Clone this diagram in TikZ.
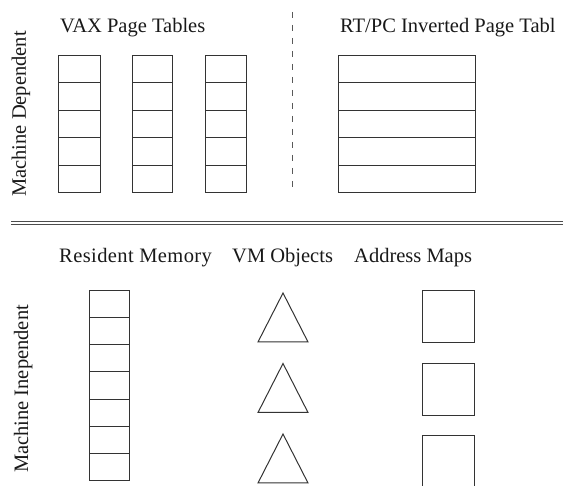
\documentclass[tikz,border=0pt]{standalone}
\usepackage{fontspec}
\setmainfont{Liberation Serif}
\begin{document}
\begin{tikzpicture}[x=1pt,y=-1pt,
  ink/.style={draw=black!80, line width=1pt},
  cell/.style={ink, rectangle, inner sep=0pt, anchor=north west},
  label/.style={font=\fontsize{20.5}{24}\selectfont, text=black!90, inner sep=0pt},
  sidelabel/.style={label, rotate=90, anchor=base},
  obj/.style={ink, line join=miter}]
  \useasboundingbox (0,0) rectangle (563,486);
  \clip (0,0) rectangle (563,486);

  % ---- machine dependent part ----
  \node[sidelabel] (mdep) at (26,114) {Machine Dependent};
  \node[label, anchor=base west] (vaxlbl) at (60,33) {VAX Page Tables};
  \node[label, anchor=base west] (rtlbl) at (340,33) {RT/PC Inverted Page Tabl};

  % three VAX page tables, five entries each
  \foreach \c/\x/\w in {1/58/42, 2/132/40, 3/205/41} {
    \foreach \r in {0,...,4} {
      \node[cell, minimum width=\w pt, minimum height=27.4pt]
        (vax\c-\r) at (\x, 55+27.4*\r) {};
    }
  }
  % inverted page table
  \foreach \r in {0,...,4} {
    \node[cell, minimum width=137pt, minimum height=27.4pt]
      (ipt-\r) at (338, 55+27.4*\r) {};
  }

  % separator between the two page table kinds
  \coordinate (sepT) at (292,12);
  \coordinate (sepB) at (292,192);
  \draw[draw=black!65, line width=1pt, dash pattern=on 6.5pt off 6.5pt] (sepT) -- (sepB);

  % ---- boundary between the layers ----
  \coordinate (bndL) at (11,221.7);
  \coordinate (bndR) at (563,221.7);
  \draw[draw=black!70, line width=1.1pt] (bndL) -- (bndR);
  \draw[draw=black!70, line width=1.1pt] ([yshift=-2.6pt]bndL) -- ([yshift=-2.6pt]bndR);

  % ---- machine independent part ----
  \node[sidelabel] (mind) at (28,389) {Machine Inependent};
  \node[label, anchor=base west] (rmlbl) at (59,262.7) {\addfontfeature{LetterSpace=2}Resident Memory};
  \node[label, anchor=base west] (vmlbl) at (232,262.7) {VM Objects};
  \node[label, anchor=base west] (amlbl) at (354,262.7) {Address Maps};

  % resident memory pages
  \foreach \r in {0,...,6} {
    \node[cell, minimum width=40pt, minimum height=27.14pt]
      (page-\r) at (89, 290+27.14*\r) {};
  }

  % VM objects
  \foreach \i/\t in {1/293, 2/363.5, 3/434} {
    \draw[obj] (283,\t) -- (308,\t+49) -- (258,\t+49) -- cycle;
  }

  % address maps
  \foreach \i/\t in {1/290, 2/363, 3/435} {
    \node[cell, minimum width=52pt, minimum height=52pt] (map\i) at (422,\t) {};
  }
\end{tikzpicture}
\end{document}
